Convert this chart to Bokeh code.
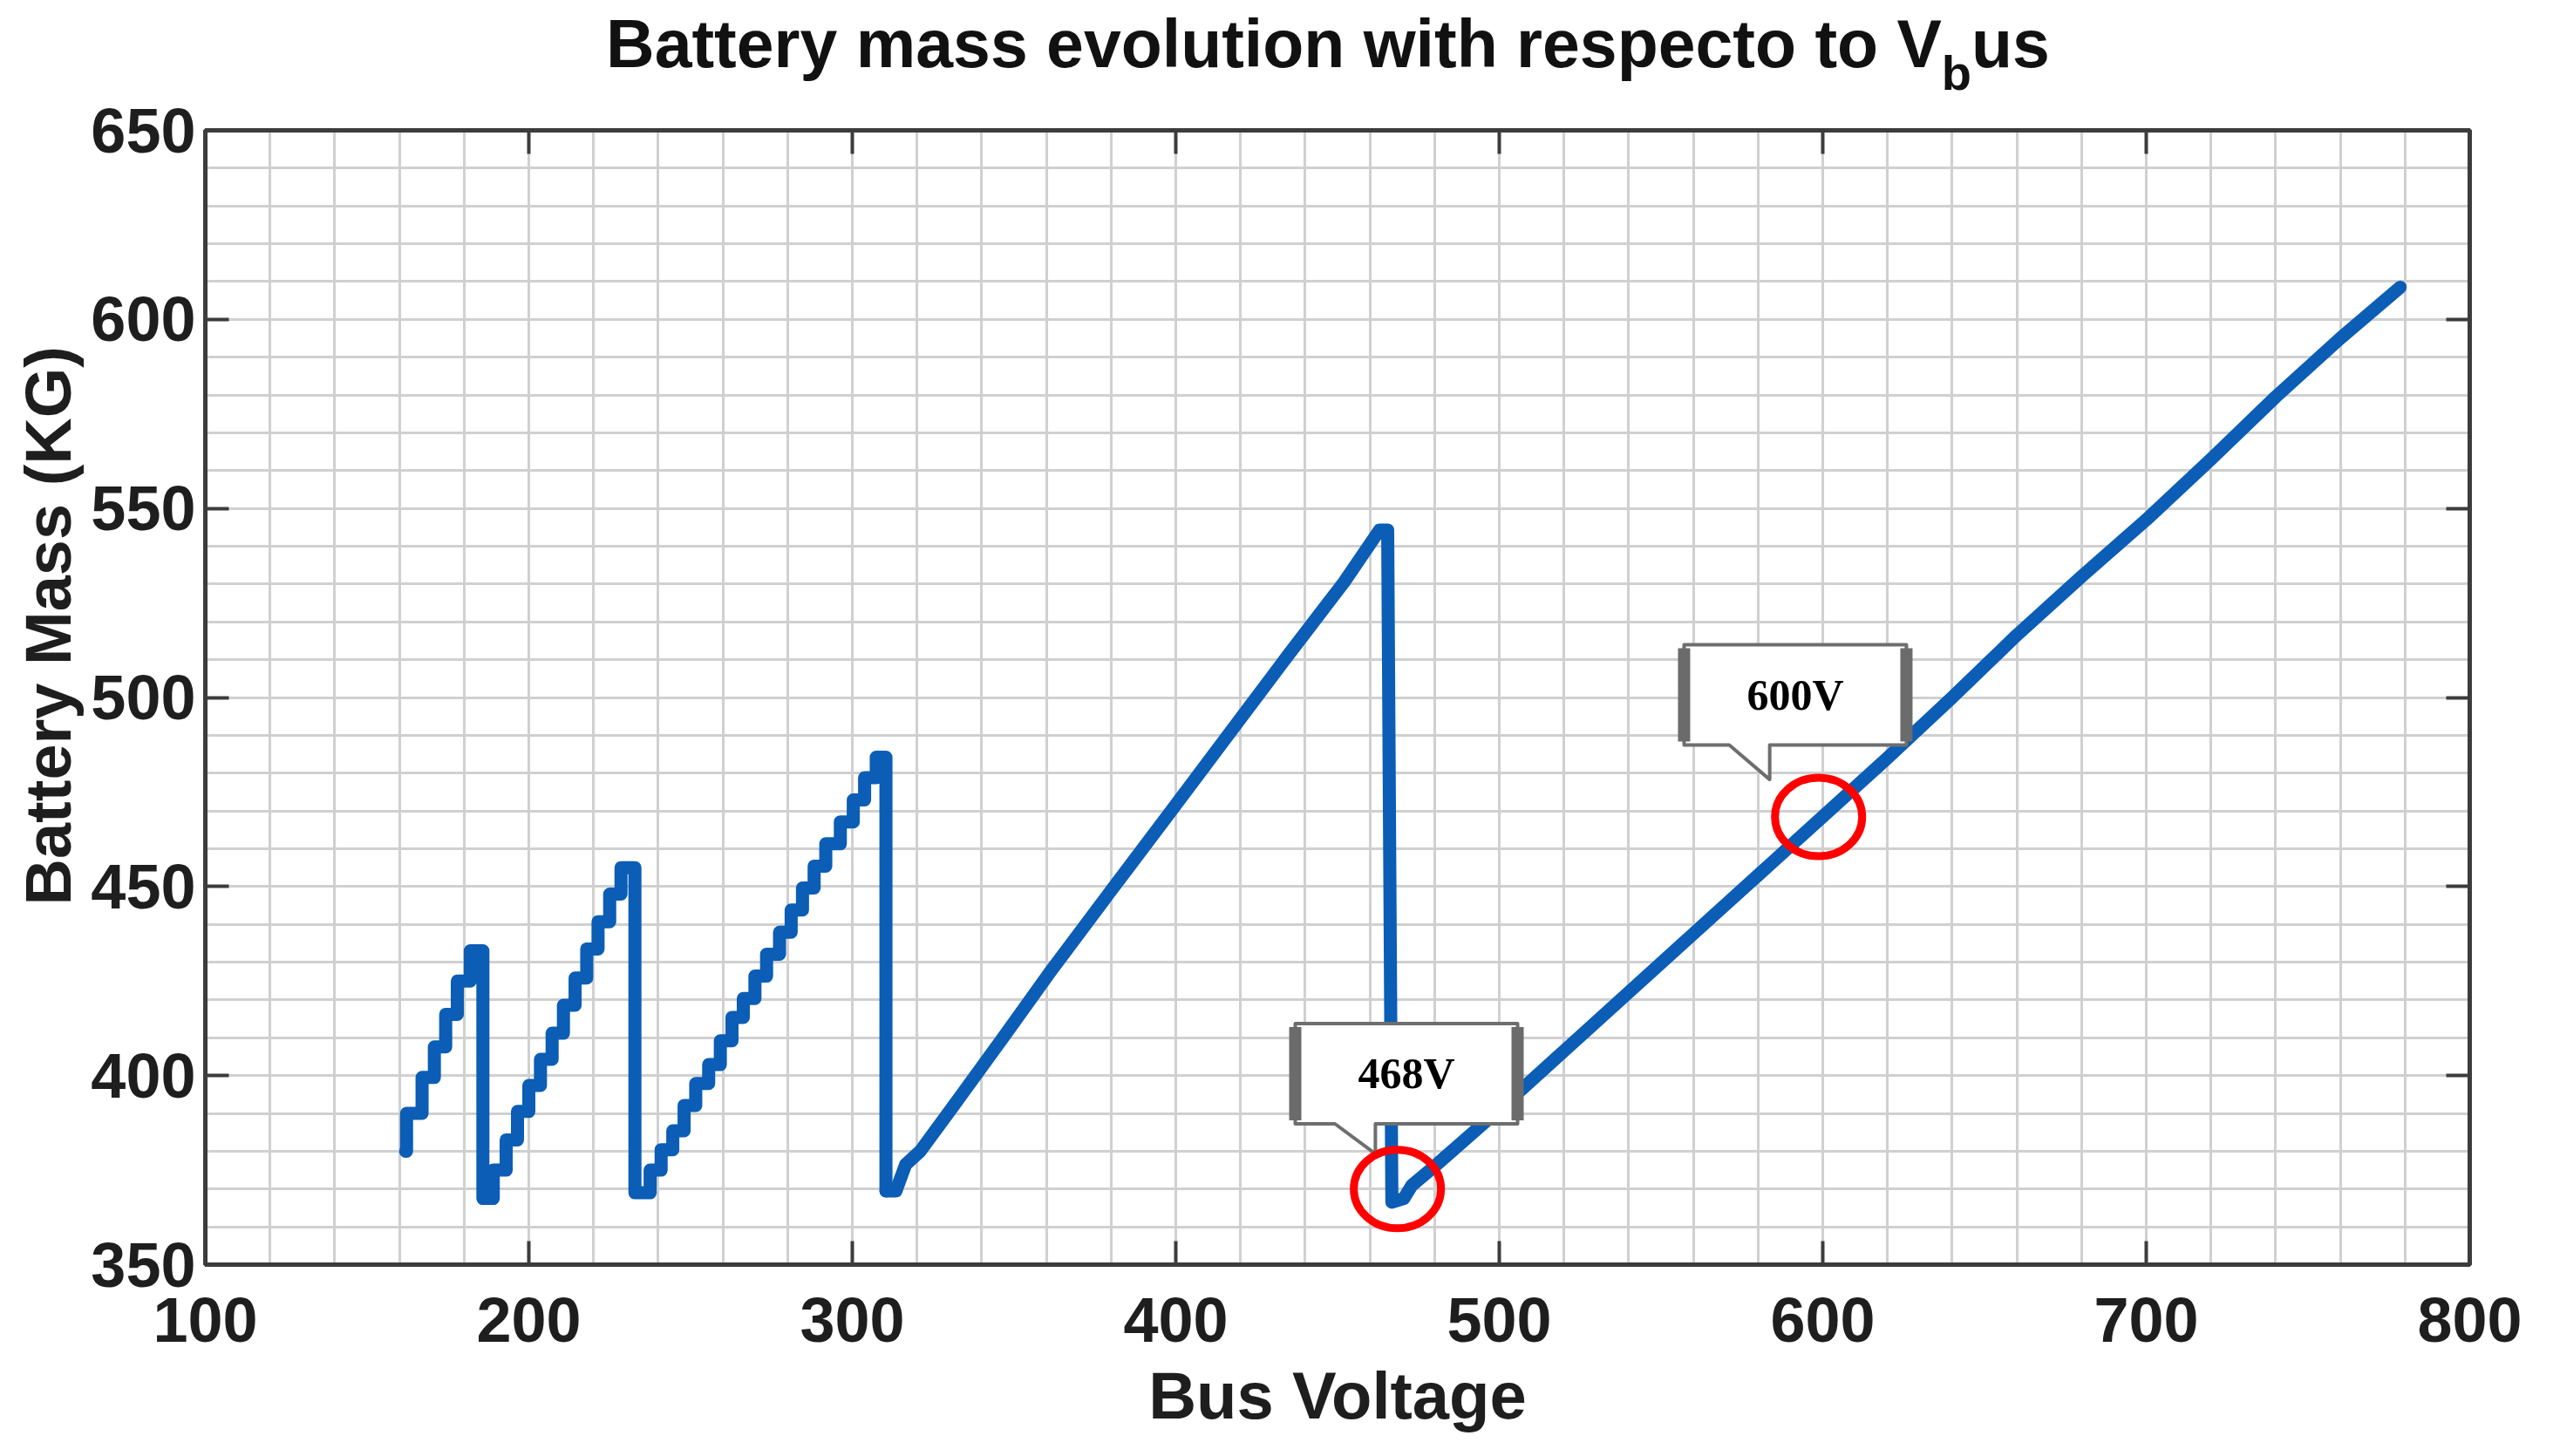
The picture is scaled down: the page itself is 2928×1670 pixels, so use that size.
from bokeh.plotting import figure
from bokeh.models import (Range1d, LinearAxis, SingleIntervalTicker, Div,
                          CustomJSTickFormatter)
from bokeh.layouts import column
from bokeh.embed import file_html
from bokeh.resources import INLINE
from bokeh.core.properties import value

# ---------------- data ----------------
# staircase part (step corners: rise at x then run to next x)
stair_voltage = [161.9, 162.2, 167.0, 170.8, 174.3, 177.9, 181.9, 185.8,
                 189.0, 193.0, 196.5, 200.0, 203.6, 207.2, 210.7, 214.3, 217.9, 221.4, 225.0, 228.5, 232.8,
                 237.5, 240.9, 244.5, 248.0, 251.6, 255.6, 259.2, 262.8, 266.3, 269.9, 273.5, 277.5,
                 281.1, 284.6, 288.2, 291.8, 296.3, 300.3, 303.8, 307.4, 310.4]
stair_mass = [380.0, 390.0, 399.5, 407.6, 416.2, 425.0, 433.0, 367.5,
              375.0, 383.0, 390.5, 397.4, 404.3, 411.2, 418.6, 425.8, 433.5, 440.7, 448.0, 455.0, 369.0,
              375.0, 380.4, 385.4, 392.1, 397.9, 402.9, 409.2, 415.4, 420.4, 426.3, 432.1, 437.9,
              443.8, 449.6, 455.4, 461.3, 467.1, 472.9, 478.8, 484.2, 369.5]

# fine-stepped ramps (segments 4 and 5)
ramp_voltage = [310.4, 313.5, 316.5, 321.0, 333.0, 347.0, 361.0, 379.0, 399.0, 417.0, 435.0,
                452.0, 463.0, 465.5, 466.8, 470.5, 473.0, 480.0, 500.0, 520.0, 540.0, 560.0,
                580.0, 600.0, 620.0, 640.0, 660.0, 680.0, 700.0, 720.0, 740.0, 760.0, 778.5]
ramp_mass = [369.5, 369.5, 376.5, 380.0, 394.0, 410.5, 427.2, 447.8, 470.5, 491.0, 511.5,
             530.5, 544.3, 544.3, 366.5, 367.5, 371.0, 376.0, 391.0, 406.5, 422.0, 437.5,
             453.0, 468.5, 484.0, 500.0, 516.5, 532.0, 547.0, 563.0, 579.5, 595.0, 608.5]

# highlighted points and their callouts
marked_voltage = [468.5, 598.7]
marked_mass = [370.0, 468.4]
callout_text = ["468V", "600V"]
callout_center_v = [471.3, 591.5]
callout_center_m = [400.5, 500.7]
callout_tip_v = [461.7, 583.6]
callout_tip_m = [379.3, 478.3]

x_ticks_interval = 100
y_ticks_interval = 50

# ---------------- styling ----------------
FONT = "Liberation Sans"
AX = "#3c3c3c"
BLUE = "#0b5db5"
GRID = "#d0d0d0"
TXT = "#1e1e1e"

p = figure(frame_width=2597, frame_height=1301,
           x_range=Range1d(100, 800), y_range=Range1d(350, 650),
           output_backend="svg", toolbar_location=None,
           min_border_left=235, min_border_right=80, min_border_top=43, min_border_bottom=204,
           background_fill_color="white", border_fill_color="white")

p.outline_line_color = AX
p.outline_line_width = 5

p.xaxis.ticker = SingleIntervalTicker(interval=x_ticks_interval, num_minor_ticks=5)
p.yaxis.ticker = SingleIntervalTicker(interval=y_ticks_interval, num_minor_ticks=5)

for ax in (p.xaxis[0], p.yaxis[0]):
    ax.axis_line_color = AX
    ax.axis_line_width = 5
    ax.major_tick_in = 27
    ax.major_tick_out = 0
    ax.major_tick_line_color = AX
    ax.major_tick_line_width = 4
    ax.minor_tick_in = 0
    ax.minor_tick_out = 0
    ax.major_label_text_font = FONT
    ax.major_label_text_font_style = "bold"
    ax.major_label_text_font_size = "72px"
    ax.major_label_text_color = TXT
    ax.axis_label_text_font = FONT
    ax.axis_label_text_font_style = "bold"
    ax.axis_label_text_color = TXT

p.xaxis.axis_label = "Bus Voltage"
p.xaxis.axis_label_text_font_size = "76px"
p.xaxis.major_label_standoff = 38
p.xaxis.axis_label_standoff = 16
p.yaxis.axis_label = "\u00a0" * 8 + "Battery Mass (KG)"
p.yaxis.axis_label_text_font_size = "74px"
p.yaxis.major_label_standoff = 11
p.yaxis.axis_label_standoff = 4

for loc, interval in (("right", y_ticks_interval), ("above", x_ticks_interval)):
    ax = LinearAxis(ticker=SingleIntervalTicker(interval=interval, num_minor_ticks=5),
                    formatter=CustomJSTickFormatter(code="return ''"))
    ax.axis_line_color = AX
    ax.axis_line_width = 5
    ax.major_tick_in = 27
    ax.major_tick_out = 0
    ax.major_tick_line_color = AX
    ax.major_tick_line_width = 4
    ax.minor_tick_in = 0
    ax.minor_tick_out = 0
    ax.major_label_standoff = 0
    ax.major_label_text_font_size = "1px"
    p.add_layout(ax, loc)

for g in (p.xgrid[0], p.ygrid[0]):
    g.grid_line_color = GRID
    g.grid_line_width = 3
    g.minor_grid_line_color = GRID
    g.minor_grid_line_width = 3

# curve
p.step(stair_voltage, stair_mass, mode="after", line_color=BLUE, line_width=15,
       line_join="round", line_cap="round")
p.line(ramp_voltage, ramp_mass, line_color=BLUE, line_width=15,
       line_join="round", line_cap="round")

# callout boxes
px_x = 2597 / 700.0
px_y = 1301 / 300.0
box_w = 255 / px_x
box_h = 115 / px_y
tail_w = 12.5
xs, ys = [], []
for cx, cy, tx, ty in zip(callout_center_v, callout_center_m, callout_tip_v, callout_tip_m):
    L, R = cx - box_w / 2, cx + box_w / 2
    T, B = cy + box_h / 2, cy - box_h / 2
    xs.append([L, R, R, tx, tx, tx - tail_w, L])
    ys.append([T, T, B, B, ty, B, B])
p.patches(xs, ys, fill_color="white", line_color="#6e6e6e", line_width=4, line_join="round")
bar_x = [c - box_w / 2 for c in callout_center_v] + [c + box_w / 2 for c in callout_center_v]
bar_y = callout_center_m + callout_center_m
p.rect(bar_x, bar_y, width=14, height=box_h * 0.93, width_units="screen",
       fill_color="#6b6b6b", line_color=None)
p.text(callout_center_v, callout_center_m, text=callout_text,
       text_font=value("Liberation Serif"), text_font_style="bold", text_font_size="50px",
       text_align="center", text_baseline="middle", text_color="black")

# red rings
p.ellipse(marked_voltage, marked_mass, width=100, height=90, width_units="screen",
          height_units="screen", fill_color=None, line_color="#ff0000", line_width=9)

# title (with subscript b)
title = Div(
    text=('<div style="width:2778px;height:106px;font-family:\'Liberation Sans\';font-weight:bold;'
          'font-size:77px;line-height:77px;padding-top:12px;box-sizing:border-box;'
          'text-align:center;color:#111111;white-space:nowrap;">'
          'Battery mass evolution with respecto to V'
          '<span style="font-size:56px;position:relative;top:26px;">b</span>us</div>'),
    width=2778, height=106, margin=(0, 0, 0, 134))

layout = column(title, p, spacing=0)
open("out.html", "w").write(file_html(layout, INLINE))
